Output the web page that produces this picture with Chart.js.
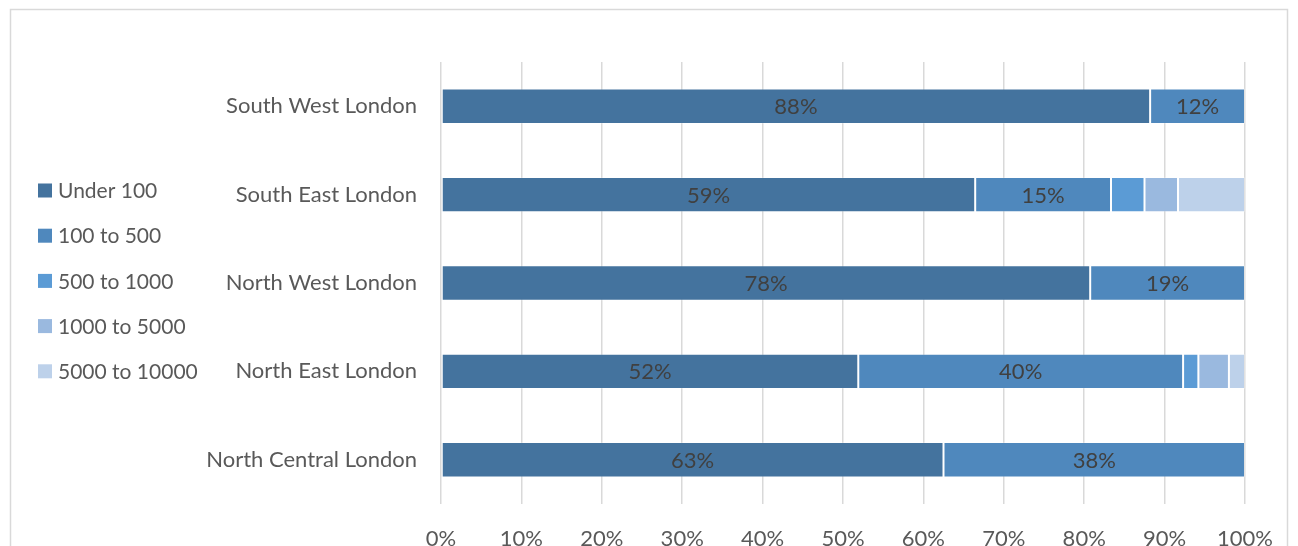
<!DOCTYPE html>
<html>
<head>
<meta charset="utf-8">
<script src="https://cdn.jsdelivr.net/npm/chart.js@4.4.0/dist/chart.umd.min.js"></script>
<style>
  html, body { margin: 0; padding: 0; background: #ffffff; }
  #wrap { position: relative; width: 1298px; height: 546px; }
</style>
</head>
<body>
<div id="wrap"><canvas id="c" width="1298" height="546"></canvas></div>
<script>
// ---- Data ----
const categories = ["South West London", "South East London", "North West London", "North East London", "North Central London"];
const seriesNames = ["Under 100", "100 to 500", "500 to 1000", "1000 to 5000", "5000 to 10000"];
const under100 = [88.2, 59, 78, 51.9, 62.5];
const from100to500 = [11.8, 15, 18.6, 40.4, 37.5];
const from500to1000 = [0, 3.7, 0, 1.9, 0];
const from1000to5000 = [0, 3.7, 0, 3.8, 0];
const from5000to10000 = [0, 7.4, 0, 2.0, 0];
const xTicks = [0, 10, 20, 30, 40, 50, 60, 70, 80, 90, 100];

const seriesValues = [under100, from100to500, from500to1000, from1000to5000, from5000to10000];
const colors = ["#44739e", "#4f88bd", "#5b9bd5", "#9ab9df", "#bdd1ea"];
const FONT = "Lato";
const FS = 22;

const totals = categories.map((_, i) => seriesValues.reduce((s, arr) => s + arr[i], 0));

const datasets = seriesValues.map((arr, k) => ({
  label: seriesNames[k],
  data: arr.map((v, i) => v / totals[i] * 100),
  raw: arr,
  backgroundColor: colors[k],
  borderColor: "rgba(255,255,255,0.22)",
  borderWidth: 1,
  borderSkipped: false,
  barPercentage: 0.4,
  categoryPercentage: 1.0
}));

const framePlugin = {
  id: "frame",
  beforeDraw(chart) {
    const ctx = chart.ctx;
    ctx.save();
    ctx.fillStyle = "#ffffff";
    ctx.fillRect(0, 0, chart.width, chart.height);
    ctx.strokeStyle = "#d9d9d9";
    ctx.lineWidth = 1.5;
    ctx.strokeRect(10.5, 9.5, 1277, 600);
    ctx.restore();
  }
};

const labelPlugin = {
  id: "segLabels",
  afterDatasetsDraw(chart) {
    const ctx = chart.ctx;
    ctx.save();
    ctx.font = FS + "px " + FONT;
    ctx.fillStyle = "#404040";
    ctx.textAlign = "center";
    ctx.textBaseline = "middle";
    chart.data.datasets.forEach((ds, k) => {
      const meta = chart.getDatasetMeta(k);
      meta.data.forEach((bar, i) => {
        const v = ds.raw[i];
        if (v < 10) return;
        const p = bar.getProps(["x", "y", "base"], true);
        const cx = (p.x + p.base) / 2;
        ctx.fillText(Math.round(v) + "%", cx, p.y + 1);
      });
    });
    ctx.restore();
  }
};

const legendPlugin = {
  id: "sideLegend",
  afterDraw(chart) {
    const ctx = chart.ctx;
    ctx.save();
    ctx.font = "21px " + FONT;
    ctx.textBaseline = "middle";
    ctx.textAlign = "left";
    chart.data.datasets.forEach((ds, k) => {
      const cy = 190.5 + 45.2 * k;
      ctx.fillStyle = ds.backgroundColor;
      ctx.fillRect(38, cy - 7, 14, 14);
      ctx.fillStyle = "#595959";
      ctx.fillText(ds.label, 58, cy + 1);
    });
    ctx.restore();
  }
};

new Chart(document.getElementById("c"), {
  type: "bar",
  data: { labels: categories, datasets },
  options: {
    indexAxis: "y",
    responsive: false,
    animation: false,
    layout: { padding: { top: 62, right: 53, left: 0, bottom: 0 } },
    plugins: { legend: { display: false }, tooltip: { enabled: false } },
    scales: {
      x: {
        stacked: true,
        min: 0, max: 100,
        afterBuildTicks(scale) { scale.ticks = xTicks.map(v => ({ value: v })); },
        afterFit(scale) { scale.height = 42; },
        ticks: {
          callback: v => v + "%",
          color: "#595959",
          font: { family: FONT, size: FS },
          padding: 22,
          maxRotation: 0
        },
        grid: { color: "#d9d9d9", lineWidth: 1.5, drawTicks: false },
        border: { display: false }
      },
      y: {
        stacked: true,
        afterFit(scale) { scale.width = 441; },
        ticks: {
          color: "#595959",
          font: { family: FONT, size: FS },
          padding: 24
        },
        grid: { display: false, drawTicks: false },
        border: { display: false }
      }
    }
  },
  plugins: [framePlugin, labelPlugin, legendPlugin]
});
</script>
</body>
</html>
